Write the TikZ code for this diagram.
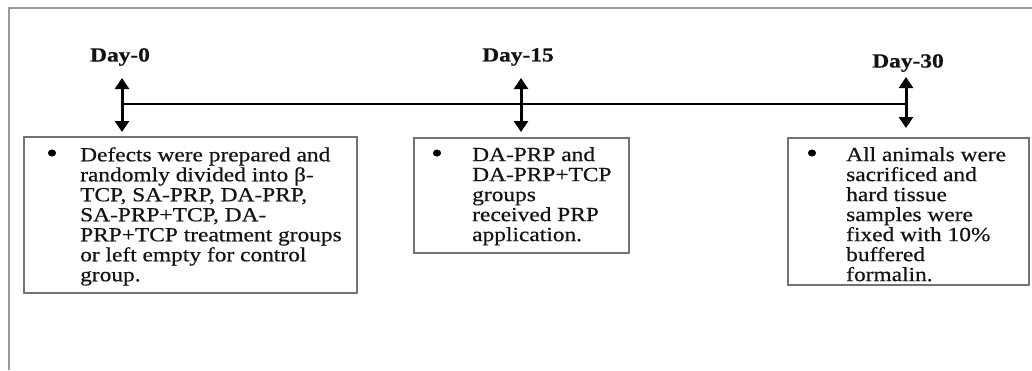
\documentclass[tikz,border=0pt]{standalone}
\usepackage{fontspec}
\setmainfont[FakeStretch=1.17,FakeBold=0.6]{Liberation Serif}
\usetikzlibrary{arrows.meta}
\begin{document}
\begin{tikzpicture}[x=1pt,y=-1pt,
  frame/.style={draw=black!40, line width=2pt},
  box/.style={draw=black!55, line width=1.6pt, inner sep=0pt, outer sep=0pt, anchor=north west},
  txt/.style={inner sep=0pt, anchor=north west, align=left, font=\fontsize{20}{20}\selectfont, text=black!92},
  bul/.style={inner sep=0pt, font=\fontsize{28}{28}\selectfont, text=black},
  day/.style={inner sep=0pt, font=\fontsize{20}{20}\selectfont\bfseries, text=black!92},
  dbl/.style={{Triangle[length=11pt,width=14pt]}-{Triangle[length=11pt,width=14pt]}, line width=3pt},
  tl/.style={line width=1.5pt}]
\useasboundingbox (0,0) rectangle (1032,370);
\draw[frame] (9,370) -- (9,8) -- (1032,8);

% day labels
\node[day] (d0) at (120,57) {Day-0};
\node[day] (d15) at (518,57) {Day-15};
\node[day] (d30) at (908,63) {Day-30};

% arrows
\coordinate (a0t) at (122,78);
\coordinate (a0m) at (122,104);
\coordinate (a0b) at (122,132);
\coordinate (a1t) at (521,78);
\coordinate (a1b) at (521,132);
\coordinate (a2t) at (906,77);
\coordinate (a2m) at (906,104);
\coordinate (a2b) at (906,128);
\draw[tl] (a0m) -- (a2m);
\draw[dbl] (a0t) -- (a0b);
\draw[dbl] (a1t) -- (a1b);
\draw[dbl] (a2t) -- (a2b);

% boxes
\node[box, minimum width=333pt, minimum height=156pt] (b1) at (24,137) {};
\node[box, minimum width=215pt, minimum height=115pt] (b2) at (414,138) {};
\node[box, minimum width=241pt, minimum height=147pt] (b3) at (788,138) {};

\node[bul] (u1) at (52,156) {•};
\node[txt] (t1) at (80,147) {Defects were prepared and\\randomly divided into β-\\TCP, SA-PRP, DA-PRP,\\SA-PRP+TCP, DA-\\PRP+TCP treatment groups\\or left empty for control\\group.};

\node[bul] (u2) at (437,156) {•};
\node[txt] (t2) at (472,147) {DA-PRP and\\DA-PRP+TCP\\groups\\received PRP\\application.};

\node[bul] (u3) at (812,156) {•};
\node[txt] (t3) at (846,147) {All animals were\\sacrificed and\\hard tissue\\samples were\\fixed with 10\%\\buffered\\formalin.};
\end{tikzpicture}
\end{document}
